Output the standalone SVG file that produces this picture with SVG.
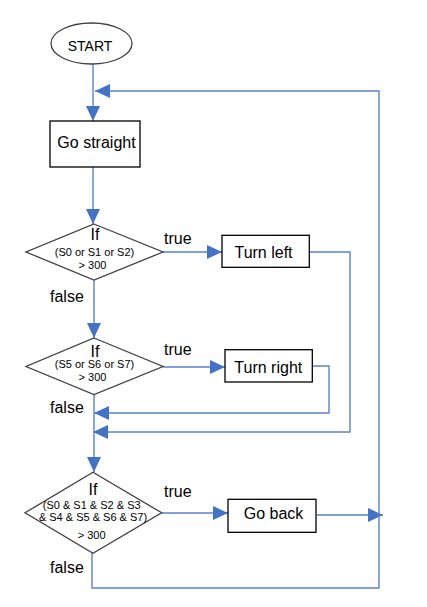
<svg xmlns="http://www.w3.org/2000/svg" width="427" height="607" viewBox="0 0 427 607">
<style>
.shape{fill:#fff;stroke:#404040;stroke-width:1.3}
.box{fill:#fff;stroke:#000;stroke-width:1.3}
.t{font-family:"Liberation Sans",Arial,sans-serif;fill:#000}
.big{font-size:16px}
.sm{font-size:11px}
.conn{fill:none;stroke:#5a82cc;stroke-width:1.4}
</style>
<defs>
<marker id="arr" markerUnits="userSpaceOnUse" markerWidth="16" markerHeight="15" refX="15" refY="7" orient="auto">
<path d="M0,0 L15,7 L0,14 z" fill="#4472c4"/>
</marker>
</defs>
<g id="connectors">
<path class="conn" d="M93,64 V121" marker-end="url(#arr)"/>
<path class="conn" d="M93,167 V224" marker-end="url(#arr)"/>
<path class="conn" d="M163,252 H222" marker-end="url(#arr)"/>
<path class="conn" d="M309,252 H350 V432 H93" marker-end="url(#arr)"/>
<path class="conn" d="M94,280 V338" marker-end="url(#arr)"/>
<path class="conn" d="M163,367 H225" marker-end="url(#arr)"/>
<path class="conn" d="M312,366 H329 V413 H94" marker-end="url(#arr)"/>
<path class="conn" d="M94,394 V472" marker-end="url(#arr)"/>
<path class="conn" d="M162,513 H228" marker-end="url(#arr)"/>
<path class="conn" d="M317,515 H383" marker-end="url(#arr)"/>
<path class="conn" d="M92,553 V588 H379 V91 H95" marker-end="url(#arr)"/>
</g>
<g id="start">
<ellipse class="shape" cx="91.5" cy="43.5" rx="40.5" ry="20.5"/>
<text class="t" x="90" y="51" font-size="14" text-anchor="middle">START</text>
</g>
<g id="go-straight">
<rect class="box" x="50" y="121" width="90" height="46"/>
<text class="t big" x="96.5" y="148.3" text-anchor="middle">Go straight</text>
</g>
<g id="if1">
<polygon class="shape" points="94,224 163,252 94,280 26,252"/>
<text class="t big" x="95" y="240" text-anchor="middle">If</text>
<text class="t sm" x="94.5" y="255.7" text-anchor="middle">(S0 or S1 or S2)</text>
<text class="t sm" x="92.5" y="269" text-anchor="middle">&gt; 300</text>
</g>
<g id="turn-left">
<rect class="box" x="222" y="235.3" width="87.3" height="32"/>
<text class="t big" x="263.5" y="258.3" text-anchor="middle">Turn left</text>
</g>
<g id="if2">
<polygon class="shape" points="94,338 163,366.5 94,394.5 26,366.5"/>
<text class="t big" x="95" y="356.5" text-anchor="middle">If</text>
<text class="t sm" x="94.5" y="368" text-anchor="middle">(S5 or S6 or S7)</text>
<text class="t sm" x="92.5" y="380.7" text-anchor="middle">&gt; 300</text>
</g>
<g id="turn-right">
<rect class="box" x="225" y="349.7" width="87.3" height="32.3"/>
<text class="t big" x="268.3" y="372.7" text-anchor="middle">Turn right</text>
</g>
<g id="if3">
<polygon class="shape" points="93,472.3 161.7,512.8 93,553.3 25,512.8"/>
<text class="t big" x="93" y="495" text-anchor="middle">If</text>
<text class="t sm" x="91.7" y="509" text-anchor="middle">(S0 &amp; S1 &amp; S2 &amp; S3</text>
<text class="t sm" x="93" y="520.5" text-anchor="middle">&amp; S4 &amp; S5 &amp; S6 &amp; S7)</text>
<text class="t sm" x="91.7" y="539" text-anchor="middle">&gt; 300</text>
</g>
<g id="go-back">
<rect class="box" x="228" y="499.3" width="88" height="33"/>
<text class="t big" x="273.5" y="519" text-anchor="middle">Go back</text>
</g>
<g id="labels">
<text class="t big" x="164" y="244.3">true</text>
<text class="t big" x="164" y="355.3">true</text>
<text class="t big" x="164" y="496.7">true</text>
<text class="t big" x="50" y="302">false</text>
<text class="t big" x="50" y="413">false</text>
<text class="t big" x="50" y="573">false</text>
</g>
</svg>
